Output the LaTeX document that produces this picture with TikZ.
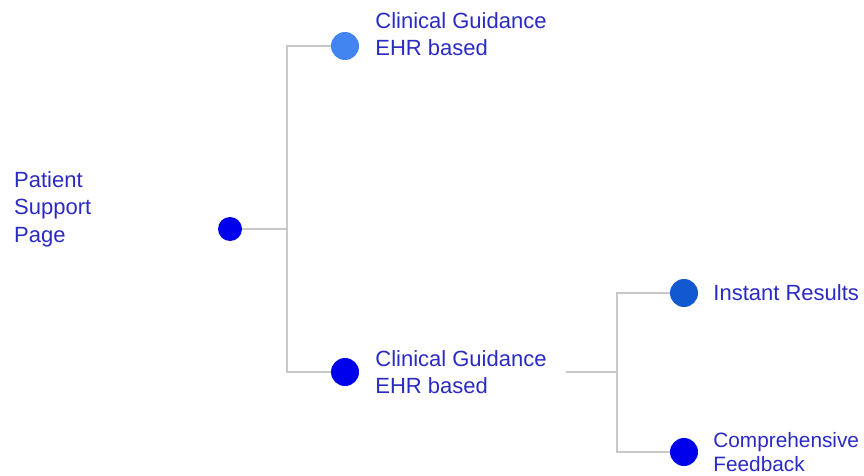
\documentclass[tikz,border=0pt]{standalone}
\usepackage{fontspec}
\setmainfont{Liberation Sans}
\usepackage{tikz}
\usetikzlibrary{positioning}

\definecolor{labelblue}{RGB}{42,42,196}
\definecolor{dotblue}{RGB}{0,0,236}
\definecolor{lightdot}{RGB}{66,133,240}
\definecolor{middot}{RGB}{18,88,208}
\definecolor{linegray}{RGB}{200,200,200}

\begin{document}
\begin{tikzpicture}[x=1pt,y=-1pt]
	
	\useasboundingbox (0,0) rectangle (864,476);
	
	\tikzstyle{dot}=[circle,fill=dotblue,minimum size=28pt,inner sep=0pt]
	\tikzstyle{names}=[text=labelblue,align=left,inner sep=0pt,font=\fontsize{22}{27.5}\selectfont]
	\tikzstyle{link}=[draw=linegray,line width=1.1pt]
	
	%Root
	\node[dot,minimum size=24pt] (root) at (230,229) {};
	\node[names,anchor=west] (root-t) at (14,209) {Patient\\Support\\Page};
	
	%First level - Dots
	\node[dot,fill=lightdot] (top) at (345,46) {};
	\node[dot] (mid) at (345,372) {};
	
	%Second level - Dots
	\foreach \name/\y/\c in {inst/293/middot, comp/452/dotblue}
	\node[dot,fill=\c] (\name) at (684,\y) {};
	
	%Labels
	\node[names,right=16pt of top,yshift=12pt] (top-t) {Clinical Guidance\\EHR based};
	\node[names,right=16pt of mid] (mid-t) {Clinical Guidance\\EHR based};
	\node[names,right=15pt of inst] (inst-t) {Instant Results};
	\node[names,right=15pt of comp,font=\fontsize{20.8}{24}\selectfont] (comp-t) {Comprehensive\\Feedback};
	
	%Junctions
	\coordinate (j1) at (287,229);
	\coordinate (j2) at (617,372);
	
	%Links
	\draw[link] (root) -- (j1);
	\draw[link] (top) -| (j1) |- (mid);
	\draw[link] ([xshift=19pt]mid-t.east) -- (j2);
	\draw[link] (inst) -| (j2) |- (comp);
	
\end{tikzpicture}
\end{document}
